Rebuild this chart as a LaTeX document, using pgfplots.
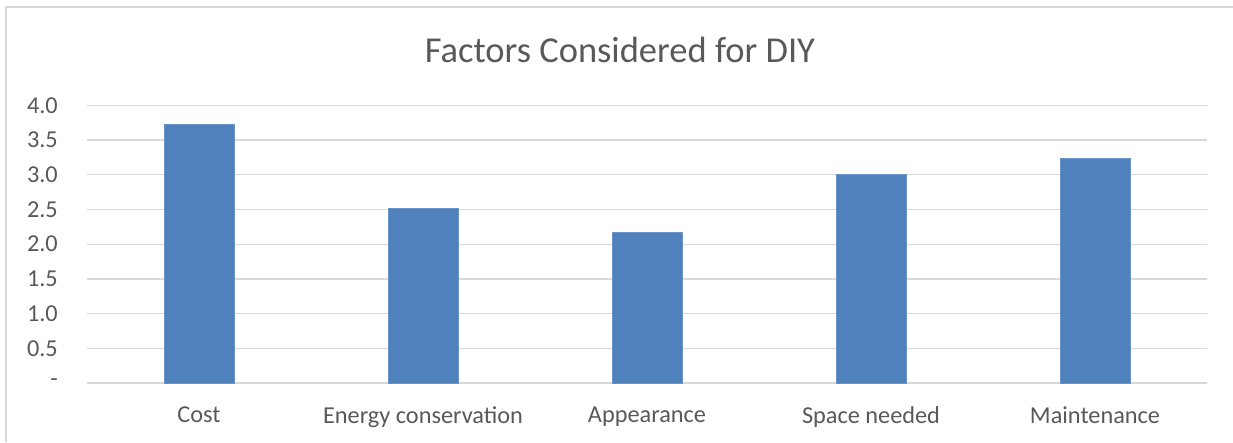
\documentclass[border=0pt]{standalone}
\usepackage{pgfplots}
\pgfplotsset{compat=1.18}
\usepackage{fontspec}
\setmainfont{Carlito}
\definecolor{barblue}{HTML}{4F81BD}
\definecolor{gridgray}{HTML}{D9D9D9}
\definecolor{textgray}{HTML}{595959}
\begin{document}
\begin{tikzpicture}
% canvas: 1 unit = 1pt, origin at the lower left
\path[use as bounding box] (0,0) rectangle (1233pt,442pt);
% chart frame (left and top edges)
\draw[gridgray, line width=1.5pt] (6pt,0pt) -- (6pt,435pt) -- (1233pt,435pt);
% title
\node[anchor=base, text=textgray, font=\fontsize{36.5}{42}\selectfont, inner sep=0pt]
  at (620pt,379.3pt) {Factors Considered for DIY};
\begin{axis}[
  at={(87pt,59pt)}, anchor=south west,
  scale only axis, width=1120pt, height=277.7pt,
  xmin=-0.5, xmax=4.5, ymin=0, ymax=4,
  axis line style={draw=none},
  ymajorgrids, grid style={gridgray, line width=1.3pt},
  major tick length=0pt,
  ytick={0,0.5,1,1.5,2,2.5,3,3.5,4},
  yticklabels={{-}\hspace{11pt},0.5,1.0,1.5,2.0,2.5,3.0,3.5,4.0},
  yticklabel style={anchor=east, inner sep=0pt, xshift=-29pt, text=textgray,
    font=\fontsize{24.3}{28}\selectfont},
  xtick={0,1,2,3,4},
  xticklabels={Cost,Energy conservation,Appearance,Space needed,Maintenance},
  xticklabel style={anchor=north, inner sep=0pt, yshift=-23.5pt, text=textgray,
    font=\fontsize{24.3}{28}\selectfont},
  ybar, bar width=70pt,
]
\addplot[fill=barblue, draw=barblue!85!white, line width=0.8pt]
  coordinates {(0,3.72) (1,2.51) (2,2.17) (3,3.00) (4,3.24)};
\end{axis}
\end{tikzpicture}
\end{document}
